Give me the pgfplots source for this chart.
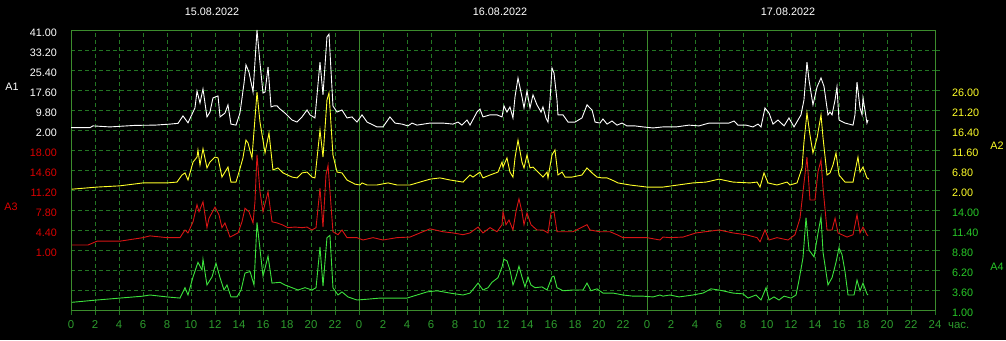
\documentclass[border=0pt]{standalone}
\usepackage{fontspec}
\setmainfont{Liberation Sans}
\usepackage{pgfplots}
\pgfplotsset{compat=1.18}

\definecolor{gridg}{RGB}{35,118,35}
\definecolor{bordg}{RGB}{60,140,45}
\definecolor{tickg}{RGB}{45,155,45}
\definecolor{cyel}{RGB}{255,255,40}
\definecolor{cred}{RGB}{215,20,20}
\definecolor{cgrn}{RGB}{60,225,60}
\definecolor{lred}{RGB}{220,0,0}
\definecolor{lgrn}{RGB}{40,200,40}
\newcommand\lf{\fontsize{10.8}{13}\selectfont}
\newcommand\xf{\fontsize{11.4}{13}\selectfont}

\pgfplotsset{
 base/.style={scale only axis, width=864pt, height=280pt, at={(71pt,30pt)}, anchor=south west, xmin=0, xmax=72},
 ser/.style={base, hide x axis, axis line style={draw=none}, ytick style={draw=none}, major tick length=0pt, clip=false,
   yticklabel style={font=\lf, inner sep=0pt}},
}

\begin{document}
\begin{tikzpicture}[x=1pt,y=1pt]
\fill[black] (0,0) rectangle (1006,340);
\useasboundingbox (0,0) rectangle (1006,340);

% grid axis
\begin{axis}[base, ymin=0, ymax=14,
  xtick={0,2,...,72},
  xticklabels={0,2,4,6,8,10,12,14,16,18,20,22,0,2,4,6,8,10,12,14,16,18,20,22,0,2,4,6,8,10,12,14,16,18,20,22,24},
  ytick={1,...,13}, yticklabels={},
  grid=major, major grid style={gridg, dash pattern=on 4pt off 3pt, line width=0.85pt},
  axis line style={bordg, line width=0.9pt},
  xtick pos=bottom, ytick pos=right, tick align=outside, major tick length=5pt,
  xtick style={gridg, line width=0.85pt}, ytick style={gridg, line width=0.85pt},
  xticklabel style={font=\xf, text=tickg, inner sep=0pt, yshift=-5pt},
  extra x ticks={24,48}, extra x tick labels={},
  extra x tick style={major grid style={solid, bordg, line width=0.9pt}, major tick length=0pt},
]
\addplot[draw=none] coordinates {(0,0)};
\end{axis}

% A4 green
\begin{axis}[ser, ymin=1.0, ymax=37.4,
  ytick={1,3.6,6.2,8.8,11.4,14}, yticklabels={1.00,3.60,6.20,8.80,11.40,14.00},
  yticklabel pos=right, yticklabel style={text=lgrn, anchor=west, xshift=17pt, yshift=-3pt}]
\addplot[cgrn, line width=0.9pt] table {
x y
0.08 2.0
2.17 2.3
4.08 2.55
6.00 2.8
6.58 2.95
8.00 2.7
9.08 2.55
9.50 3.9
9.75 2.95
10.17 5.3
10.58 7.2
10.92 6.2
11.00 7.6
11.33 4.25
11.75 5.3
12.08 7.1
12.42 5.2
12.75 3.6
13.00 4.25
13.33 2.7
13.83 2.7
14.17 3.6
14.50 5.8
14.92 6.0
15.25 4.25
15.50 12.4
16.00 5.4
16.42 8.0
16.75 4.5
17.42 4.6
17.83 4.25
18.42 3.9
18.92 3.6
19.50 3.9
20.08 3.6
20.42 3.9
20.75 9.2
21.00 4.1
21.33 10.4
21.58 10.7
21.83 3.9
22.25 2.95
22.58 3.35
23.08 2.7
23.83 2.3
24.67 2.4
25.75 2.55
26.83 2.55
28.00 2.55
28.83 2.95
29.67 3.35
30.50 3.5
31.58 3.2
32.67 2.95
33.25 3.2
33.67 4.0
33.92 4.5
34.33 3.6
34.75 3.9
35.08 4.6
35.58 5.2
35.92 6.6
36.08 7.6
36.33 7.4
36.58 6.2
36.83 4.25
37.08 5.3
37.33 6.7
37.58 5.3
37.83 4.0
38.08 5.3
38.33 4.25
38.67 3.9
39.25 4.0
39.67 3.6
40.08 5.3
40.25 5.4
40.50 3.9
41.00 3.5
41.83 3.6
42.67 3.6
43.00 4.5
43.33 3.5
43.83 3.75
44.33 3.2
45.17 3.2
46.00 2.95
46.83 2.8
47.67 2.8
48.50 2.7
49.08 2.95
49.33 2.8
49.92 2.95
50.67 2.7
51.83 2.95
52.67 3.2
53.33 3.75
54.00 3.6
55.17 3.2
56.00 3.1
56.42 2.55
57.08 2.95
57.50 2.3
57.92 3.9
58.17 2.3
58.58 2.7
59.00 2.3
59.42 2.8
60.00 2.55
60.42 2.95
60.67 4.9
61.00 7.8
61.25 13.0
61.50 8.8
61.92 7.9
62.25 11.0
62.50 13.1
62.67 8.5
63.08 4.25
63.42 5.2
63.75 7.2
64.00 9.1
64.25 8.2
64.50 6.0
64.75 2.95
65.25 2.95
65.50 4.9
65.75 3.5
66.00 4.5
66.33 3.1
66.42 2.95
};
\end{axis}

% A3 red
\begin{axis}[ser, ymin=-9.2, ymax=38.4,
  ytick={1,4.4,7.8,11.2,14.6,18}, yticklabels={1.00,4.40,7.80,11.20,14.60,18.00},
  yticklabel pos=left, yticklabel style={text=lred, anchor=east, xshift=-14pt, yshift=-3pt}]
\addplot[cred, line width=0.9pt] table {
x y
0.08 1.85
1.42 1.85
2.17 2.5
4.08 2.5
6.00 3.1
6.58 3.4
8.00 3.1
9.08 3.1
9.50 4.4
9.75 3.9
10.17 5.8
10.50 8.7
10.67 7.5
11.00 9.2
11.33 4.8
11.50 6.4
12.00 8.3
12.33 7.0
12.58 4.8
12.83 5.6
13.25 3.2
13.92 3.9
14.25 5.8
14.50 8.1
14.83 7.5
15.17 5.6
15.33 9.2
15.50 17.2
15.75 10.9
16.00 7.5
16.42 10.9
16.75 5.8
17.17 5.6
17.58 5.3
18.08 4.8
18.67 4.9
19.25 4.8
19.67 4.9
20.08 4.4
20.42 4.8
20.75 11.5
21.00 4.9
21.25 13.8
21.42 15.4
21.83 4.1
22.25 3.6
22.58 4.4
23.00 3.1
23.83 3.1
24.33 2.7
25.17 3.1
26.00 2.7
27.17 3.1
28.25 3.2
29.08 3.9
29.92 4.6
31.00 4.1
31.83 3.9
32.67 3.6
33.25 3.9
33.92 4.9
34.33 3.9
34.92 4.8
35.50 4.1
35.92 5.3
36.00 7.5
36.25 5.3
36.50 6.1
36.83 4.4
37.08 7.5
37.33 9.7
37.58 7.5
37.75 5.3
38.00 7.3
38.33 5.3
38.83 4.4
39.33 4.4
39.75 3.9
40.00 7.3
40.25 7.5
40.50 4.1
41.00 4.1
41.83 4.1
43.00 5.3
43.25 4.4
44.08 4.1
44.92 4.1
45.50 3.6
46.00 3.1
46.83 3.1
48.00 3.1
49.08 2.7
49.33 3.2
49.92 3.1
51.00 3.2
52.08 3.9
54.00 4.4
55.17 3.9
56.25 3.6
57.17 3.1
57.42 2.4
57.83 4.4
58.17 2.7
58.83 3.1
59.75 2.7
60.33 3.6
60.75 6.4
61.00 10.9
61.33 16.8
61.58 9.5
62.00 9.5
62.25 14.3
62.50 16.3
62.67 11.5
63.00 4.4
63.42 4.4
63.67 6.4
63.92 3.9
64.67 3.2
65.17 3.6
65.50 7.0
65.75 3.9
66.00 4.9
66.33 3.6
66.42 3.4
};
\end{axis}

% A2 yellow
\begin{axis}[ser, ymin=-26.8, ymax=40.4,
  ytick={2,6.8,11.6,16.4,21.2,26}, yticklabels={2.00,6.80,11.60,16.40,21.20,26.00},
  yticklabel pos=right, yticklabel style={text=cyel, anchor=west, xshift=17pt, yshift=-3pt}]
\addplot[cyel, line width=0.9pt] table {
x y
0.08 2.2
2.17 2.7
4.08 3.0
6.00 3.7
8.00 3.7
8.83 3.9
9.25 5.6
9.50 6.1
9.75 4.4
10.17 8.7
10.50 9.9
10.58 11.6
10.75 8.0
11.00 11.9
11.33 7.3
11.58 8.7
12.00 9.9
12.25 9.7
12.58 5.1
12.83 6.3
13.08 7.5
13.33 3.9
13.75 3.9
14.00 6.3
14.33 9.7
14.58 14.0
14.75 13.3
15.08 9.7
15.50 25.5
15.75 18.3
16.17 10.9
16.50 15.7
16.83 6.8
17.25 7.3
17.67 6.1
18.42 5.1
18.83 4.9
19.25 6.1
19.67 6.3
20.08 5.1
20.33 4.9
20.75 16.4
21.00 9.9
21.33 23.6
21.50 25.3
21.83 10.4
22.17 6.3
22.58 6.1
23.00 4.4
23.67 3.4
24.08 3.2
24.25 3.7
24.67 3.2
25.50 3.2
26.42 3.7
27.17 3.2
28.25 3.2
29.08 3.9
29.92 4.6
30.75 4.9
31.58 4.4
32.67 3.9
33.25 5.6
33.50 5.1
34.08 6.3
34.33 4.9
34.92 5.6
35.58 6.3
35.92 8.7
36.00 7.5
36.33 9.7
36.58 6.3
36.83 5.1
37.00 9.7
37.25 14.0
37.58 8.7
37.75 7.3
38.00 10.4
38.25 7.3
38.50 7.5
38.92 6.3
39.33 5.1
39.67 6.3
39.75 4.9
40.08 10.4
40.33 11.6
40.58 5.6
40.92 6.3
41.17 5.1
41.75 5.1
42.58 5.6
43.00 7.3
43.42 6.1
43.83 5.1
44.25 4.9
44.67 4.9
45.08 4.4
45.58 3.7
46.17 3.4
46.58 3.2
48.00 2.7
49.33 2.7
51.83 3.7
52.92 3.9
54.00 4.6
55.17 3.9
56.58 3.7
57.17 3.9
57.42 2.7
57.75 6.1
58.08 3.7
58.83 3.2
59.67 3.9
59.92 3.2
60.50 3.7
60.92 7.3
61.08 13.5
61.33 20.5
61.58 15.2
61.83 10.9
62.17 14.5
62.50 20.0
62.67 14.5
63.00 5.6
63.25 6.1
63.50 8.0
63.75 10.9
64.00 5.6
64.50 3.9
65.17 3.9
65.33 6.3
65.58 9.9
65.75 6.3
66.00 7.5
66.33 4.9
66.50 4.6
};
\end{axis}

% A1 white
\begin{axis}[ser, ymin=-68.2, ymax=41,
  ytick={2,9.8,17.6,25.4,33.2,41}, yticklabels={2.00,9.80,17.60,25.40,33.20,41.00},
  yticklabel pos=left, yticklabel style={text=white, anchor=east, xshift=-14pt, yshift=-3pt}]
\addplot[white, line width=0.9pt] table {
x y
0.00 2.9
1.58 2.9
1.83 3.6
3.25 3.2
5.33 3.8
7.00 3.9
8.25 4.3
8.92 4.6
9.33 7.5
9.75 4.8
10.33 10.6
10.50 17.2
10.75 12.5
11.00 18.0
11.33 7.1
11.58 9.0
11.83 14.5
12.25 15.3
12.42 7.1
12.83 8.6
13.08 11.8
13.33 4.3
13.75 3.9
14.08 8.6
14.42 20.3
14.58 27.4
14.83 24.6
15.17 16.8
15.50 41.0
15.75 28.1
16.00 16.4
16.17 16.8
16.42 26.6
16.67 11.0
16.92 11.4
17.17 11.4
17.42 10.2
17.83 8.6
18.42 5.9
18.83 5.1
19.25 7.1
19.67 9.8
19.92 7.9
20.33 6.7
20.75 28.5
21.00 15.7
21.33 38.3
21.50 39.4
21.83 11.4
22.17 9.0
22.58 9.8
23.00 6.7
23.42 7.1
23.83 5.1
24.25 7.9
24.67 5.1
25.50 3.2
26.00 3.2
26.58 7.1
27.00 4.7
27.58 4.3
28.08 3.6
28.42 4.7
28.83 3.9
29.92 4.7
31.00 4.7
31.83 4.3
32.25 5.1
32.58 3.9
33.00 5.9
33.25 3.9
33.83 9.0
34.08 10.2
34.33 7.1
34.92 7.9
35.50 7.9
35.92 7.1
36.08 11.4
36.33 9.0
36.58 11.0
36.83 6.7
37.00 14.9
37.25 22.3
37.58 14.9
37.75 10.6
38.00 17.2
38.25 10.6
38.50 15.7
38.83 11.8
39.17 9.0
39.33 11.0
39.58 6.7
39.75 5.1
39.92 13.7
40.08 26.2
40.25 24.2
40.50 13.7
40.58 7.9
41.00 7.9
41.42 5.1
42.00 5.1
42.58 6.7
43.00 11.8
43.42 9.8
43.67 5.1
44.08 4.7
44.33 6.3
44.67 4.3
45.08 5.5
45.50 3.9
45.92 4.7
46.33 3.6
47.00 3.6
47.67 3.2
48.50 2.8
49.33 3.2
50.42 3.2
51.50 3.9
52.33 3.6
53.17 4.7
54.83 4.7
55.25 5.5
55.58 3.9
56.25 3.9
56.83 3.2
57.25 4.3
57.50 3.2
57.83 10.6
58.17 8.6
58.50 4.3
58.92 5.9
59.42 3.6
59.83 6.7
60.25 3.2
60.83 7.9
61.08 13.7
61.33 28.5
61.50 21.5
61.83 11.8
62.17 18.8
62.50 22.3
62.75 19.0
63.08 7.9
63.25 9.0
63.42 7.9
63.67 13.7
63.83 18.8
64.00 5.9
64.50 4.7
65.17 3.9
65.33 7.9
65.50 20.7
65.75 10.6
65.92 7.9
66.00 14.5
66.33 4.7
66.42 5.9
};
\end{axis}

% labels
\node[font=\lf, text=white] at (212,328.3) {15.08.2022};
\node[font=\lf, text=white] at (500,328.3) {16.08.2022};
\node[font=\lf, text=white] at (788,328.3) {17.08.2022};
\node[font=\lf, text=white] at (12,253) {A1};
\node[font=\lf, text=lred] at (11,133) {A3};
\node[font=\lf, text=cyel] at (997,194) {A2};
\node[font=\lf, text=lgrn] at (997,73) {A4};
\node[font=\xf, text=tickg, anchor=west, inner sep=0pt] at (948,15) {час.};
\end{tikzpicture}
\end{document}
